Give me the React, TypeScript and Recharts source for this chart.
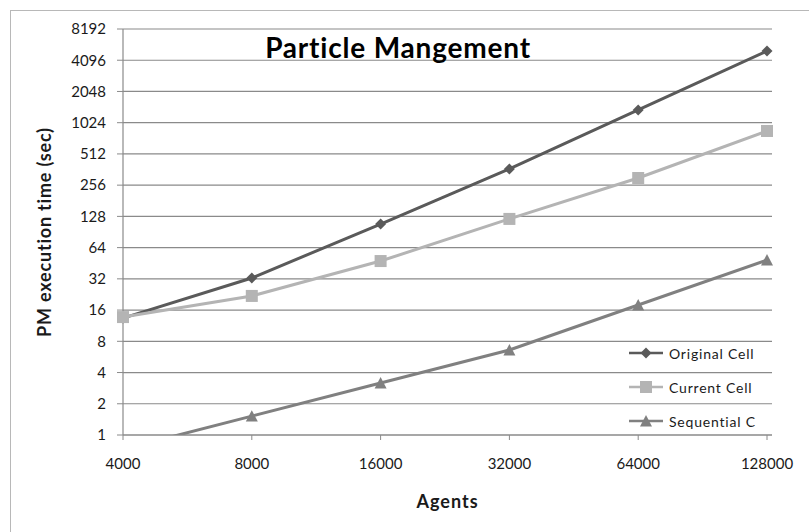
import React from "react";
import { LineChart, Line, XAxis, YAxis, CartesianGrid } from "recharts";

const AGENTS = ["4000", "8000", "16000", "32000", "64000", "128000"];
const ORIGINAL_CELL = [13.4, 32.6, 108, 367, 1360, 5030];
const CURRENT_CELL = [13.7, 21.9, 47.5, 121, 300, 852];
const SEQUENTIAL_C = [0.73, 1.52, 3.17, 6.6, 17.9, 48.6];
const Y_TICKS = [1, 2, 4, 8, 16, 32, 64, 128, 256, 512, 1024, 2048, 4096, 8192];

const FONT = "Lato, 'Open Sans', sans-serif";
const GRID = "#8a8a8a";
const TEXT = "#1a1a1a";

const SERIES = [
  { key: "original", name: "Original Cell", color: "#5a5a5a", shape: "diamond" },
  { key: "current", name: "Current Cell", color: "#b4b4b4", shape: "square" },
  { key: "sequential", name: "Sequential C", color: "#808080", shape: "triangle" },
];

const data = AGENTS.map((a, i) => ({
  agents: a,
  original: ORIGINAL_CELL[i],
  current: CURRENT_CELL[i],
  sequential: SEQUENTIAL_C[i],
}));

function Marker({ shape, cx, cy, color }: { shape: string; cx: number; cy: number; color: string }) {
  if (shape === "diamond") {
    const r = 5.5;
    return <polygon points={`${cx},${cy - r} ${cx + r},${cy} ${cx},${cy + r} ${cx - r},${cy}`} fill={color} />;
  }
  if (shape === "square") {
    const s = 6;
    return <rect x={cx - s} y={cy - s} width={s * 2} height={s * 2} fill={color} />;
  }
  const h = 6;
  return <polygon points={`${cx},${cy - h} ${cx + h},${cy + h * 0.9} ${cx - h},${cy + h * 0.9}`} fill={color} />;
}

const makeDot = (shape: string, color: string) => (props: any) => {
  const { cx, cy, index, value } = props;
  // points below the axis floor are left off
  if (cx == null || cy == null || value < 1) return <g key={index} />;
  return <Marker key={index} shape={shape} cx={cx} cy={cy} color={color} />;
};

// legend sits inside the plot, bottom right
const LegendBox = () => (
  <div
    style={{
      position: "absolute",
      left: 629,
      top: 336,
      fontFamily: FONT,
      fontSize: 14,
      color: TEXT,
    }}
  >
    {SERIES.map((s) => (
      <div key={s.key} style={{ display: "flex", alignItems: "center", height: 34 }}>
        <svg width={34} height={14} style={{ marginRight: 6 }}>
          <line x1={0} y1={7} x2={34} y2={7} stroke={s.color} strokeWidth={2.5} />
          <Marker shape={s.shape} cx={17} cy={7} color={s.color} />
        </svg>
        <span style={{ letterSpacing: 0.8 }}>{s.name}</span>
      </div>
    ))}
  </div>
);

export default function App() {
  return (
    <div style={{ position: "absolute", left: 0, top: 0, width: 809, height: 532, background: "#fff", overflow: "hidden" }}>
      <div
        style={{
          position: "absolute",
          left: 10,
          top: 10,
          width: 820,
          height: 540,
          border: "1.5px solid #b8b8b8",
        }}
      />
      <LineChart
        width={809}
        height={532}
        data={data}
        margin={{ top: 29, right: 37, left: 0, bottom: 0 }}
        style={{ position: "absolute", left: 0, top: 0 }}
      >
        <CartesianGrid vertical={false} stroke={GRID} strokeWidth={1.2} />
        <XAxis
          dataKey="agents"
          height={97}
          padding={{ left: 0, right: 5 }}
          axisLine={{ stroke: GRID, strokeWidth: 1.2 }}
          tickLine={{ stroke: GRID }}
          tickSize={5}
          tickMargin={18}
          tick={{ fontFamily: FONT, fontSize: 15, fill: TEXT }}
          label={{
            value: "Agents",
            position: "insideBottom",
            offset: 24,
            style: { fontFamily: FONT, fontSize: 18, fontWeight: 700, fill: TEXT, letterSpacing: 1 },
          }}
        />
        <YAxis
          width={123}
          scale="log"
          domain={[1, 8192]}
          allowDataOverflow
          ticks={Y_TICKS}
          interval={0}
          axisLine={{ stroke: GRID, strokeWidth: 1.2 }}
          tickLine={{ stroke: GRID }}
          tickSize={6}
          tickMargin={11}
          tick={{ fontFamily: FONT, fontSize: 15, fill: TEXT }}
          label={{
            value: "PM execution time (sec)",
            angle: -90,
            position: "center",
            dx: -17,
            style: { fontFamily: FONT, fontSize: 18, fontWeight: 700, fill: TEXT, textAnchor: "middle", letterSpacing: 0.8 },
          }}
        />
        {SERIES.map((s) => (
          <Line
            key={s.key}
            dataKey={s.key}
            name={s.name}
            stroke={s.color}
            strokeWidth={3}
            dot={makeDot(s.shape, s.color)}
            activeDot={false}
            isAnimationActive={false}
          />
        ))}
        <text
          x={398}
          y={58}
          textAnchor="middle"
          style={{ fontFamily: FONT, fontSize: 28, fontWeight: 700, fill: "#000", letterSpacing: 0.8 }}
        >
          Particle Mangement
        </text>
      </LineChart>
      <LegendBox />
    </div>
  );
}
